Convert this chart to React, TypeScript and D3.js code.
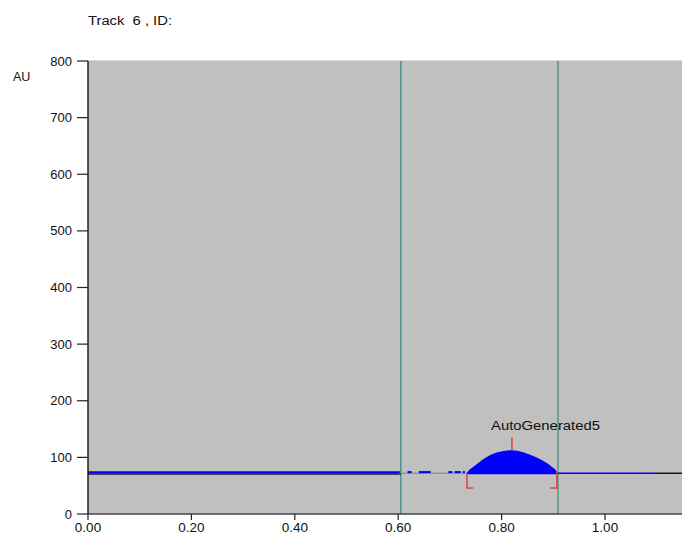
import React, { useEffect, useRef } from 'react'
import * as d3 from 'd3'

// lane profile (Rf vs AU)
const xTicks = [0, 0.2, 0.4, 0.6, 0.8, 1.0]
const yTicks = [0, 100, 200, 300, 400, 500, 600, 700, 800]

// raw profile (dark line) segments [start, end, AU]
const rawSegments = [[0, 0.605, 70.5], [1.093, 1.16, 72]]
// processed trace (blue) before the peak
const traceMain = [[0, 0.603, 73.6]]
const traceDashes = [[0.618, 0.626], [0.640, 0.663], [0.697, 0.705], [0.709, 0.721], [0.725, 0.729]]
const dashLevel = 74
// trace after the peak
const traceTail = [0.907, 1.093, 72]

// detected baseline under the gap
const baseSeg = [0.605, 0.733, 72]

// peak AutoGenerated5
const peakRf = [0.733, 0.739, 0.748, 0.758, 0.778, 0.797, 0.8195, 0.842, 0.861, 0.881, 0.897, 0.9066, 0.907]
const peakAU = [73, 78.9, 85.3, 92.4, 104.2, 110.1, 112.5, 108.9, 102.4, 93.6, 83.5, 74.7, 72]
const peakFloor = 70
const peakName = 'AutoGenerated5'
const peakTop = 0.82
const peakStart = 0.733
const peakEnd = 0.907

// lane boundaries (vertical markers)
const markers = [0.605, 0.909]

function App () {
  const ref = useRef<SVGSVGElement>(null)

  useEffect(() => {
    const svg = d3.select(ref.current)
    svg.selectAll('*').remove()

    const width = 682
    const height = 540
    const left = 88
    const top = 61
    const bottom = 514

    const x = d3.scaleLinear().domain([0, 1]).range([left, 605])
    const y = d3.scaleLinear().domain([0, 800]).range([bottom, top])

    const font = '"Liberation Sans", Arial, sans-serif'

    svg.append('rect')
      .attr('x', 0).attr('y', 0)
      .attr('width', width).attr('height', height)
      .attr('fill', '#ffffff')

    // plot background
    svg.append('rect')
      .attr('x', left).attr('y', top)
      .attr('width', width - left).attr('height', bottom - top)
      .attr('fill', '#c0c0c0')
    svg.append('line')
      .attr('x1', left).attr('x2', width)
      .attr('y1', top - 0.5).attr('y2', top - 0.5)
      .attr('stroke', '#dcdcdc')

    // vertical markers
    svg.append('g')
      .selectAll('line')
      .data(markers)
      .enter()
      .append('line')
      .attr('x1', d => x(d)).attr('x2', d => x(d))
      .attr('y1', top).attr('y2', bottom)
      .attr('stroke', '#3f8a86')
      .attr('stroke-width', 1.3)

    const line = d3.line<number[]>()
      .x(d => x(d[0]))
      .y(d => y(d[1]))

    // raw profile
    rawSegments.forEach(s => {
      svg.append('path')
        .datum([[s[0], s[2]], [s[1], s[2]]])
        .attr('fill', 'none')
        .attr('stroke', '#1a1a1a')
        .attr('stroke-width', 1.5)
        .attr('d', line)
    })

    // baseline
    svg.append('path')
      .datum([[baseSeg[0], baseSeg[2]], [baseSeg[1], baseSeg[2]]])
      .attr('fill', 'none')
      .attr('stroke', '#5f8e8a')
      .attr('stroke-width', 1)
      .attr('d', line)

    // blue trace
    traceMain.forEach(s => {
      svg.append('path')
        .datum([[s[0], s[2]], [s[1], s[2]]])
        .attr('fill', 'none')
        .attr('stroke', '#0000ff')
        .attr('stroke-width', 2)
        .attr('d', line)
    })
    svg.append('g')
      .selectAll('path')
      .data(traceDashes)
      .enter()
      .append('path')
      .attr('fill', 'none')
      .attr('stroke', '#0000ff')
      .attr('stroke-width', 2)
      .attr('d', d => line([[d[0], dashLevel], [d[1], dashLevel]]))
    svg.append('path')
      .datum([[traceTail[0], traceTail[2]], [traceTail[1], traceTail[2]]])
      .attr('fill', 'none')
      .attr('stroke', '#0000ff')
      .attr('stroke-width', 1.3)
      .attr('d', line)

    // peak area
    const peakData = peakRf.map((r, i) => [r, peakAU[i]])
    const area = d3.area<number[]>()
      .x(d => x(d[0]))
      .y0(y(peakFloor))
      .y1(d => y(d[1]))
      .curve(d3.curveMonotoneX)
    svg.append('path')
      .datum(peakData)
      .attr('fill', '#0000ff')
      .attr('d', area)

    // peak brackets and apex marker
    const red = '#f03a3a'
    const bracketDepth = 46
    svg.append('path')
      .attr('fill', 'none')
      .attr('stroke', red)
      .attr('stroke-width', 1.5)
      .attr('d', line([[peakStart, 72], [peakStart, bracketDepth], [peakStart + 0.012, bracketDepth]]))
    svg.append('path')
      .attr('fill', 'none')
      .attr('stroke', red)
      .attr('stroke-width', 1.5)
      .attr('d', line([[peakEnd, 74], [peakEnd, bracketDepth], [peakEnd - 0.013, bracketDepth]]))
    svg.append('path')
      .attr('fill', 'none')
      .attr('stroke', red)
      .attr('stroke-width', 1.5)
      .attr('d', line([[peakTop, 113], [peakTop, 135]]))

    svg.append('text')
      .attr('x', x(0.7795))
      .attr('y', y(149))
      .attr('font-family', font)
      .attr('font-size', 12.5)
      .attr('textLength', 109)
      .attr('lengthAdjust', 'spacingAndGlyphs')
      .attr('fill', '#111')
      .text(peakName)

    // axes
    svg.append('line')
      .attr('x1', left).attr('x2', left)
      .attr('y1', top).attr('y2', bottom)
      .attr('stroke', '#222').attr('stroke-width', 1.5)
    svg.append('line')
      .attr('x1', left).attr('x2', width)
      .attr('y1', bottom).attr('y2', bottom)
      .attr('stroke', '#444').attr('stroke-width', 1.5)

    const yAxis = svg.append('g')
    yAxis.selectAll('line')
      .data(yTicks)
      .enter()
      .append('line')
      .attr('x1', left - 11).attr('x2', left)
      .attr('y1', d => y(d)).attr('y2', d => y(d))
      .attr('stroke', '#222').attr('stroke-width', 1.2)
    yAxis.selectAll('text')
      .data(yTicks)
      .enter()
      .append('text')
      .attr('x', left - 16)
      .attr('y', d => y(d) + 4.5)
      .attr('text-anchor', 'end')
      .attr('font-family', font)
      .attr('font-size', 13)
      .attr('fill', '#111')
      .text(d => d3.format('d')(d))

    const xAxis = svg.append('g')
    xAxis.selectAll('line')
      .data(xTicks)
      .enter()
      .append('line')
      .attr('x1', d => x(d)).attr('x2', d => x(d))
      .attr('y1', bottom).attr('y2', bottom + 6)
      .attr('stroke', '#222').attr('stroke-width', 1.2)
    xAxis.selectAll('text')
      .data(xTicks)
      .enter()
      .append('text')
      .attr('x', d => x(d))
      .attr('y', bottom + 18)
      .attr('text-anchor', 'middle')
      .attr('font-family', font)
      .attr('font-size', 13.5)
      .attr('fill', '#111')
      .text(d => d3.format('.2f')(d))

    svg.append('text')
      .attr('x', 13)
      .attr('y', 81)
      .attr('font-family', font)
      .attr('font-size', 12.5)
      .attr('fill', '#111')
      .text('AU')

    svg.append('text')
      .attr('x', 88)
      .attr('y', 25)
      .attr('font-family', font)
      .attr('font-size', 12.5)
      .attr('fill', '#111')
      .attr('xml:space', 'preserve')
      .attr('textLength', 84)
      .attr('lengthAdjust', 'spacingAndGlyphs')
      .style('white-space', 'pre')
      .text('Track  6 , ID:')
  }, [])

  return (
    <svg
      ref={ref}
      width={682}
      height={540}
      style={{ position: 'absolute', left: 0, top: 0, display: 'block' }}
    />
  )
}

export default App
